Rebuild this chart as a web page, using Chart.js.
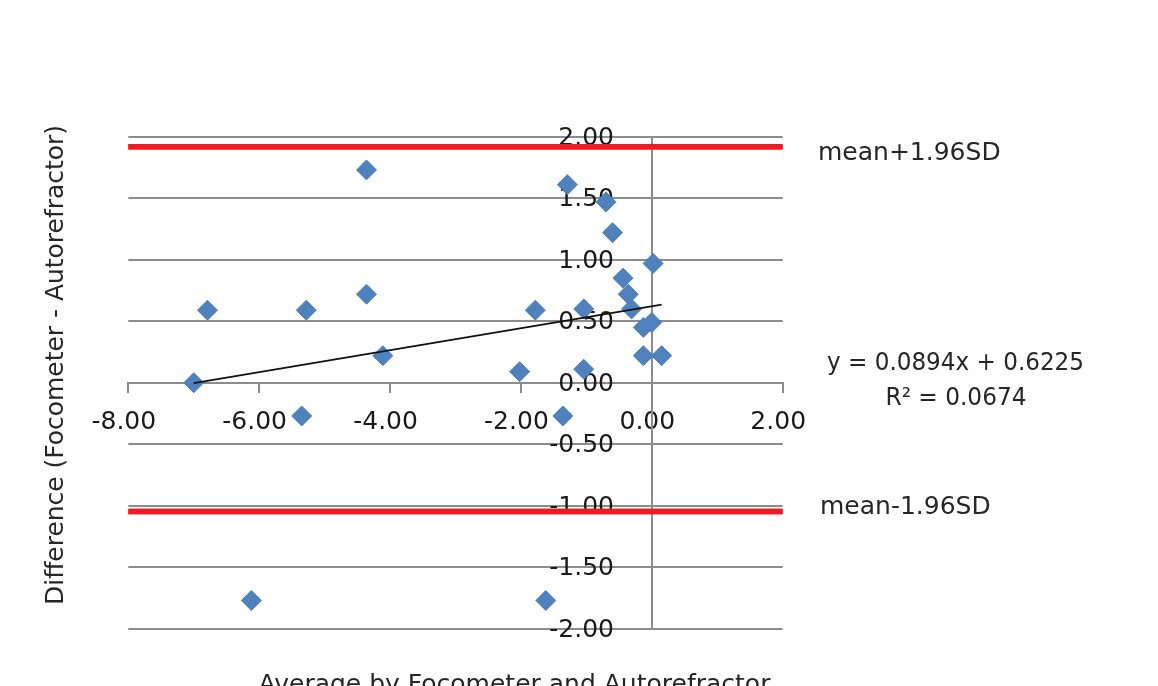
<!DOCTYPE html>
<html>
<head>
<meta charset="utf-8">
<script src="https://cdn.jsdelivr.net/npm/chart.js@4/dist/chart.umd.min.js"></script>
<style>
  html, body { margin: 0; padding: 0; background: #ffffff; }
  #wrap { width: 1158px; height: 686px; position: relative; overflow: hidden; }
</style>
</head>
<body>
<div id="wrap"><canvas id="c" width="1158" height="686"></canvas></div>
<script>
// ---- data ----
const averageValues = [-7.00, -6.79, -6.12, -5.35, -5.28, -4.36, -4.36, -4.11, -2.02, -1.78, -1.62, -1.36, -1.29,
                       -1.04, -1.04, -0.70, -0.60, -0.44, -0.36, -0.31, -0.13, 0.00, 0.02, -0.13, 0.15];
const differenceValues = [0.00, 0.59, -1.77, -0.27, 0.59, 1.73, 0.72, 0.22, 0.09, 0.59, -1.77, -0.27, 1.61,
                          0.60, 0.11, 1.47, 1.22, 0.85, 0.72, 0.60, 0.45, 0.49, 0.97, 0.22, 0.22];
const xRange = [-8, 2];
const xStep = 2;
const yRange = [-2, 2];
const yStep = 0.5;
const upperLimit = 1.918;   // mean + 1.96SD
const lowerLimit = -1.046;  // mean - 1.96SD
const limitLabels = ['mean+1.96SD', 'mean-1.96SD'];
const trendSlope = 0.0894;
const trendIntercept = 0.6225;
const trendR2 = 0.0674;
const xTitle = 'Average by Focometer and Autorefractor';
const yTitle = 'Difference (Focometer - Autorefractor)';

// ---- derived for the library ----
const points = averageValues.map((x, i) => ({ x: x, y: differenceValues[i] }));
const xMinData = Math.min(...averageValues);
const xMaxData = Math.max(...averageValues);
const trendPoints = [xMinData, xMaxData].map(x => ({ x: x, y: trendSlope * x + trendIntercept }));
const eqText = 'y = ' + trendSlope.toFixed(4) + 'x + ' + trendIntercept.toFixed(4);
const r2Text = 'R\u00B2 = ' + trendR2.toFixed(4);

const FONT = 'DejaVu Sans';
const GRID = '#8c8c8c';
const TEXT = '#1a1a1a';
const RED = '#ed1c24';
const Y_LABEL_ANCHOR = -0.578; // x-value where the y tick labels end (left of the axis line)

const overlay = {
  id: 'overlay',
  afterDraw(chart) {
    // red limit lines drawn above the tick labels, as in the reference
    [0, 1].forEach(i => chart.getDatasetMeta(i).controller.draw());
    const ctx = chart.ctx;
    const ya = chart.scales.y;
    ctx.save();
    ctx.fillStyle = '#262626';
    ctx.font = '25px "' + FONT + '"';
    ctx.textBaseline = 'alphabetic';
    ctx.textAlign = 'left';
    ctx.fillText(limitLabels[0], 818, ya.getPixelForValue(upperLimit) + 13.5);
    ctx.fillText(limitLabels[1], 820, ya.getPixelForValue(lowerLimit) + 2.5);
    ctx.textAlign = 'center';
    ctx.fillText(eqText, 955.5, 370, 257);
    ctx.fillText(r2Text, 956, 405, 141);
    ctx.fillText(xTitle, 514.5, 691.5);
    ctx.translate(62.5, 365);
    ctx.rotate(-Math.PI / 2);
    ctx.fillText(yTitle, 0, 0, 480);
    ctx.restore();
  }
};

new Chart(document.getElementById('c'), {
  type: 'scatter',
  data: {
    datasets: [
      {
        type: 'line', label: limitLabels[0],
        data: [{ x: xRange[0], y: upperLimit }, { x: xRange[1], y: upperLimit }],
        borderColor: RED, borderWidth: 5.5, pointRadius: 0, fill: false, order: 0
      },
      {
        type: 'line', label: limitLabels[1],
        data: [{ x: xRange[0], y: lowerLimit }, { x: xRange[1], y: lowerLimit }],
        borderColor: RED, borderWidth: 5.5, pointRadius: 0, fill: false, order: 0
      },
      {
        type: 'line', label: 'Linear trend',
        data: trendPoints,
        borderColor: '#111111', borderWidth: 1.8, pointRadius: 0, fill: false, order: 1
      },
      {
        label: 'Difference',
        data: points,
        pointStyle: 'rectRot', pointRadius: 10, pointHoverRadius: 10,
        backgroundColor: '#4f81bd', borderColor: '#4f81bd', borderWidth: 1, order: 2
      }
    ]
  },
  options: {
    responsive: false,
    animation: false,
    devicePixelRatio: 1,
    layout: { padding: { left: 128.3, right: 375.3, top: 136.7, bottom: 57.2 } },
    plugins: { legend: { display: false }, tooltip: { enabled: false } },
    scales: {
      x: {
        type: 'linear', min: xRange[0], max: xRange[1], position: { y: 0 },
        afterFit: s => { s.height = 0; },
        ticks: {
          stepSize: xStep, callback: v => Number(v).toFixed(2),
          font: { family: FONT, size: 25 }, color: TEXT, padding: 16, labelOffset: -4.5,
          maxRotation: 0, minRotation: 0, autoSkip: false
        },
        grid: { drawOnChartArea: false, drawTicks: true, tickLength: 9, color: GRID, lineWidth: 2 },
        border: { display: true, color: GRID, width: 2 }
      },
      y: {
        type: 'linear', min: yRange[0], max: yRange[1], position: { x: 0 },
        afterFit: s => { s.width = 0; },
        ticks: { display: false, stepSize: yStep },
        grid: { color: GRID, lineWidth: 2, drawTicks: false },
        border: { display: true, color: GRID, width: 2 }
      },
      yl: {
        axis: 'y', type: 'linear', min: yRange[0], max: yRange[1], position: { x: Y_LABEL_ANCHOR }, z: 1,
        afterFit: s => { s.width = 0; },
        ticks: {
          stepSize: yStep, callback: v => Number(v).toFixed(2),
          font: { family: FONT, size: 25 }, color: TEXT, padding: 0, labelOffset: 1.5
        },
        grid: { display: false, drawTicks: false },
        border: { display: false }
      }
    }
  },
  plugins: [overlay]
});
</script>
</body>
</html>
